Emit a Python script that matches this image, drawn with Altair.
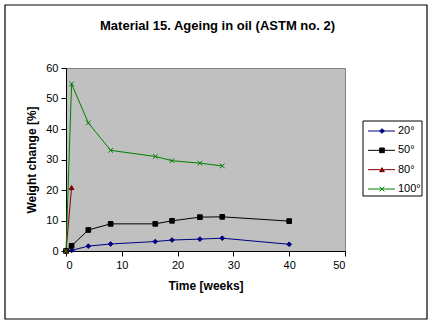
import altair as alt
import pandas as pd

series = ["20°", "50°", "80°", "100°"]
colors = ["#000080", "#000000", "#800000", "#008000"]
shapes = ["diamond", "square", "triangle-up", "M-1,-1L1,1M-1,1L1,-1"]

weeks_20 = [0, 1, 4, 8, 16, 19, 24, 28, 40]
weight_20 = [0, 0.2, 1.6, 2.3, 3.1, 3.6, 3.9, 4.2, 2.2]
weeks_50 = [0, 1, 4, 8, 16, 19, 24, 28, 40]
weight_50 = [0, 1.7, 6.9, 8.9, 8.9, 9.9, 11.1, 11.2, 9.8]
weeks_80 = [0, 1]
weight_80 = [0, 20.8]
weeks_100 = [0, 1, 4, 8, 16, 19, 24, 28]
weight_100 = [0, 54.8, 42.0, 33.0, 31.0, 29.6, 28.8, 27.9]

x_ticks = [0, 10, 20, 30, 40, 50]
y_ticks = [0, 10, 20, 30, 40, 50, 60]

rows = []
for name, wk, wt in [("20°", weeks_20, weight_20), ("50°", weeks_50, weight_50),
                     ("80°", weeks_80, weight_80), ("100°", weeks_100, weight_100)]:
    for a, b in zip(wk, wt):
        rows.append({"series": name, "week": a, "weight": b})
df = pd.DataFrame(rows)
legend_df = pd.DataFrame({"series": series})
one = pd.DataFrame({"a": [0]})

FONT = "Liberation Sans"

color = alt.Color("series:N", scale=alt.Scale(domain=series, range=colors), legend=None)
stroke = alt.Stroke("series:N", scale=alt.Scale(domain=series, range=colors), legend=None)
shape = alt.Shape("series:N", scale=alt.Scale(domain=series, range=shapes), legend=None)

x_enc = alt.X("week:Q", scale=alt.Scale(domain=[0, 50], nice=False),
              axis=alt.Axis(values=x_ticks, title="Time [weeks]", titlePadding=10))
y_main = alt.Y("weight:Q", scale=alt.Scale(domain=[0, 60], nice=False),
               axis=alt.Axis(values=y_ticks, title="Weight change [%]", titlePadding=7))
y_noaxis = alt.Y("weight:Q", scale=alt.Scale(domain=[0, 60], nice=False), axis=None)

outer = alt.Chart(one).mark_rect(fill=None, stroke="black", strokeWidth=1.2).encode(
    x=alt.value(-61), x2=alt.value(361), y=alt.value(-63), y2=alt.value(251))

lines = alt.Chart(df).mark_line(strokeWidth=1).encode(
    x=x_enc, y=y_main, color=color, detail="series:N")

points = alt.Chart(df).mark_point(filled=True, size=22, strokeWidth=1, opacity=1).encode(
    x=x_enc, y=y_noaxis, color=color, stroke=stroke, shape=shape)

legend_box = alt.Chart(one).mark_rect(fill="white", stroke="black", strokeWidth=1).encode(
    x=alt.value(297), x2=alt.value(356), y=alt.value(53), y2=alt.value(128))

ly = alt.Y("series:N", scale=alt.Scale(type="point", domain=series, range=[63, 121], padding=0),
           axis=None)

leg_lines = alt.Chart(legend_df).mark_rule(strokeWidth=1).encode(
    x=alt.value(302), x2=alt.value(329), y=ly, color=color)
leg_points = alt.Chart(legend_df).mark_point(filled=True, size=22, strokeWidth=1, opacity=1).encode(
    x=alt.value(316), y=ly, color=color, stroke=stroke, shape=shape)
leg_text = alt.Chart(legend_df).mark_text(align="left", baseline="middle", font=FONT,
                                          fontSize=11, color="black").encode(
    x=alt.value(332), y=ly, text="series:N")

chart = alt.layer(outer, lines, points, legend_box, leg_lines, leg_points, leg_text).resolve_scale(
    y="independent"
).properties(
    width=279, height=183,
    title=alt.TitleParams("Material 15. Ageing in oil (ASTM no. 2)", anchor="middle", dx=12,
                          offset=-29, font=FONT, fontSize=13, fontWeight="bold", color="black"),
    autosize=alt.AutoSizeParams(type="none"),
    padding={"left": 66, "top": 68, "right": 89, "bottom": 74},
    background="white",
).configure_view(
    fill="#C0C0C0", stroke="#808080", strokeWidth=1
).configure_axis(
    grid=False, domainColor="black", tickColor="black", labelColor="black",
    labelFont=FONT, labelFontSize=11, titleFont=FONT, titleFontSize=12,
    titleFontWeight="bold", titleColor="black", tickSize=5, labelPadding=3,
    domainWidth=1, tickWidth=1
)

chart.save("out.html", embed_options={"renderer": "svg", "actions": False})
